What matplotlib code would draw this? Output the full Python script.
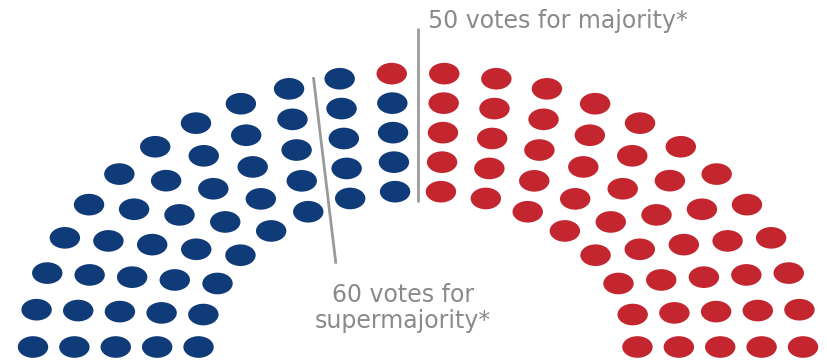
import numpy as np
import matplotlib
matplotlib.use('Agg')
import matplotlib.pyplot as plt
from matplotlib.patches import Ellipse

# --- data ---
parties = ['Democrats', 'Republicans']
party_seats = [49, 51]
party_colors = ['#0f3b78', '#c3262f']
row_seats = [16, 18, 20, 22, 24]          # seats per arc, inner -> outer
majority_label = '50 votes for majority*'
super_label = '60 votes for\nsupermajority*'
supermajority = 60

# --- layout of the hemicycle ---
r_inner, r_outer = 0.57, 1.0
radii = np.linspace(r_inner, r_outer, len(row_seats))
dot = 0.079

xs, ys, angs, rows = [], [], [], []
for k, (r, n) in enumerate(zip(radii, row_seats)):
    th = np.linspace(np.pi, 0, n)
    xs += list(r * np.cos(th))
    ys += list(r * np.sin(th))
    angs += list(th)
    rows += [k] * n
xs, ys, angs, rows = map(np.array, (xs, ys, angs, rows))
order = np.argsort(-angs, kind='stable')

seat_color = np.empty(len(xs), dtype=object)
start = 0
for n, c in zip(party_seats, party_colors):
    seat_color[order[start:start + n]] = c
    start += n

fig = plt.figure(figsize=(8.28, 3.64), dpi=100)
ax = fig.add_axes([0, 0, 1, 1])
ax.set_xlim(-1.0857, 1.0649)
ax.set_ylim(-0.062, 1.2664)
ax.axis('off')

for x, y, c in zip(xs, ys, seat_color):
    ax.add_patch(Ellipse((x, y), dot, dot, color=c, lw=0))

line_col = '#9a9a9a'
text_col = '#8a8a8a'

# majority line (centre of the chamber)
ax.plot([0, 0], [r_inner - 0.04, r_outer + 0.165], color=line_col, lw=2, solid_capstyle='butt')
ax.text(0.026, 1.19, majority_label, color=text_col, fontsize=17, ha='left', va='center')

# supermajority line: between the seats left of the 60 and the rest, per arc
n_left = sum(row_seats) - supermajority
left = np.zeros(len(xs), bool)
left[order[:n_left]] = True

def cut_angle(k):
    m = rows == k
    return (angs[m & left].min() + angs[m & ~left].max()) / 2

a_in, a_out = cut_angle(0), cut_angle(len(row_seats) - 1)
p_in = np.array([r_inner * np.cos(a_in), r_inner * np.sin(a_in)])
p_out = np.array([r_outer * np.cos(a_out), r_outer * np.sin(a_out)])
t = np.array([-0.49, 1.05])
seg = p_in[None, :] + t[:, None] * (p_out - p_in)[None, :]
ax.plot(seg[:, 0], seg[:, 1], color=line_col, lw=2, solid_capstyle='butt')
ax.text(-0.04, 0.142, super_label, color=text_col, fontsize=17, ha='center', va='center',
        multialignment='center', linespacing=1.1)

fig.savefig('out.png', dpi=100)
